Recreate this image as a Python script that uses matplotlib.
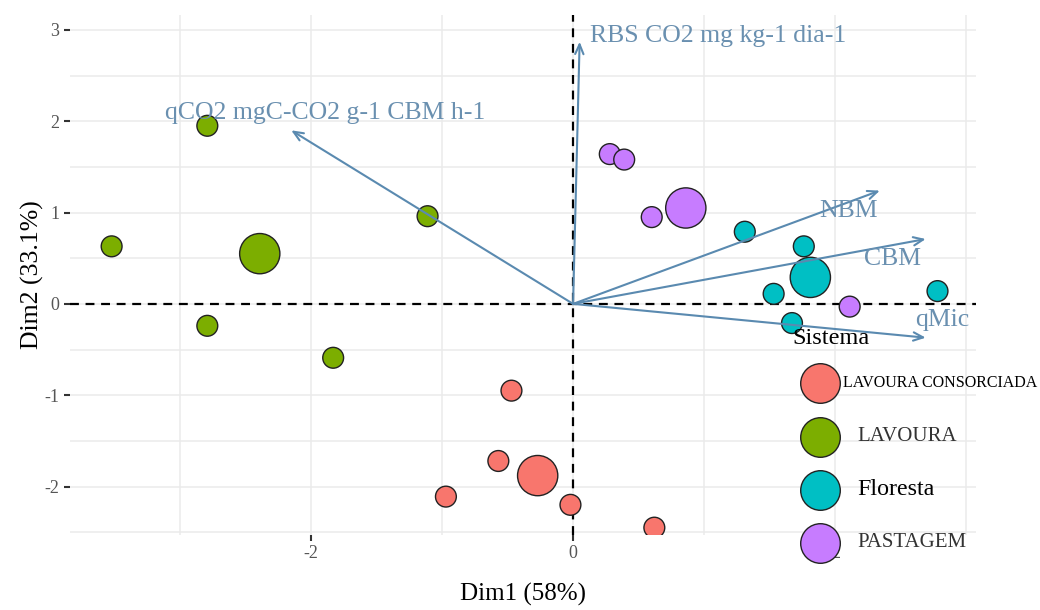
import matplotlib.pyplot as plt
from matplotlib.lines import Line2D

plt.rcParams['font.family'] = ['Liberation Serif', 'DejaVu Serif']
plt.rcParams['axes.unicode_minus'] = False

# ==========================
# DADOS
# ==========================

sistemas = ["LAVOURA CONSORCIADA", "LAVOURA", "Floresta", "PASTAGEM"]
cores = ["#F8766D", "#7CAE00", "#00BFC4", "#C77CFF"]

lc_x = [-0.47, -0.57, -0.27, -0.97, -0.02, 0.62]
lc_y = [-0.95, -1.72, -1.88, -2.11, -2.20, -2.45]
lc_big = [False, False, True, False, False, False]

lav_x = [-2.79, -3.52, -2.39, -2.79, -1.11, -1.83]
lav_y = [1.95, 0.63, 0.55, -0.24, 0.96, -0.59]
lav_big = [False, False, True, False, False, False]

flo_x = [1.31, 1.76, 1.81, 1.53, 2.78, 1.67]
flo_y = [0.79, 0.63, 0.29, 0.11, 0.14, -0.21]
flo_big = [False, False, True, False, False, False]

pas_x = [0.28, 0.39, 0.60, 0.86, 2.11]
pas_y = [1.64, 1.58, 0.95, 1.05, -0.03]
pas_big = [False, False, False, True, False]

variaveis = ["RBS CO2 mg kg-1 dia-1", "qCO2 mgC-CO2 g-1 CBM h-1", "NBM", "CBM", "qMic"]
var_x = [0.05, -2.15, 2.34, 2.69, 2.69]
var_y = [2.87, 1.90, 1.24, 0.71, -0.37]
lab_x = [0.13, -1.89, 2.10, 2.44, 2.82]
lab_y = [2.93, 2.09, 1.02, 0.49, -0.18]
lab_ha = ["left", "center", "center", "center", "center"]

grupos = [
    (lc_x, lc_y, lc_big),
    (lav_x, lav_y, lav_big),
    (flo_x, flo_y, flo_big),
    (pas_x, pas_y, pas_big),
]

# ==========================
# FIGURA
# ==========================

fig = plt.figure(figsize=(10.4, 6.1), dpi=100)
ax = fig.add_axes([0.067, 0.123, 0.871, 0.852])

ax.set_xlim(-3.84, 3.07)
ax.set_ylim(-2.53, 3.16)

ax.set_xticks([-2, 0, 2])
ax.set_yticks([-2, -1, 0, 1, 2, 3])
ax.set_xticks([-3, -1, 1, 3], minor=True)
ax.set_yticks([-2.5, -1.5, -0.5, 0.5, 1.5, 2.5], minor=True)
ax.grid(True, which="both", color="#ebebeb", linewidth=1.1)
ax.set_axisbelow(True)
ax.tick_params(which="major", length=4, width=1.5, color="#333333",
               labelsize=13, labelcolor="#555555")
ax.tick_params(which="minor", length=0)
for s in ax.spines.values():
    s.set_visible(False)

ax.axhline(0, color="black", linestyle=(0, (4, 3)), linewidth=1.6, zorder=1)
ax.axvline(0, color="black", linestyle=(0, (4, 3)), linewidth=1.6, zorder=1)

# pontos
for (gx, gy, gb), cor in zip(grupos, cores):
    tam = [840 if b else 225 for b in gb]
    ax.scatter(gx, gy, s=tam, c=cor, edgecolors="#222222", linewidths=1.0, zorder=3)

# setas das variaveis
for nome, vx, vy, lx, ly, ha in zip(variaveis, var_x, var_y, lab_x, lab_y, lab_ha):
    ax.annotate("", xy=(vx, vy), xytext=(0, 0),
                arrowprops=dict(arrowstyle="->,head_length=0.7,head_width=0.3",
                                color="#5a8ab0", linewidth=1.5, shrinkA=0, shrinkB=0),
                zorder=4)
    ax.text(lx, ly, nome, ha=ha, va="center", fontsize=18.5, color="#6a90b0", zorder=5)

ax.set_xlabel("Dim1 (58%)", fontsize=18, labelpad=15)
ax.set_ylabel("Dim2 (33.1%)", fontsize=18.5, labelpad=0)

# ==========================
# LEGENDA (desenhada na figura)
# ==========================

fig.text(0.762, 0.445, "Sistema", fontsize=17.5, ha="left", va="center", zorder=7)

leg_y = [0.372, 0.284, 0.197, 0.110]
leg_size = [11.5, 15, 17.3, 15]
leg_cor_txt = ["black", "#333333", "black", "#333333"]
leg_txt_x = [0.811, 0.824, 0.824, 0.824]

for nome, cor, yy, fs, ct, tx in zip(sistemas, cores, leg_y, leg_size, leg_cor_txt, leg_txt_x):
    fig.add_artist(Line2D([0.788], [yy], transform=fig.transFigure, marker="o",
                          linestyle="", markersize=28.5, markerfacecolor=cor,
                          markeredgecolor="#222222", markeredgewidth=1.0, zorder=7))
    fig.text(tx, yy, nome, fontsize=fs, color=ct, ha="left", va="center", zorder=7)

fig.savefig("out.png", dpi=100)
